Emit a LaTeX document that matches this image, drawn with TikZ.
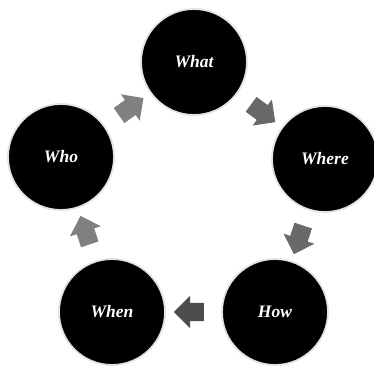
\documentclass[tikz,border=0pt]{standalone}
\usepackage{fontspec}
\setmainfont{Liberation Serif}
\usetikzlibrary{shapes.arrows}
\definecolor{arrlight}{HTML}{808080}
\definecolor{arrmid}{HTML}{696969}
\definecolor{arrdark}{HTML}{4D4D4D}
\begin{document}
\begin{tikzpicture}[x=1pt,y=1pt,
  circ/.style={circle, fill=black, draw=gray!22, line width=1.8pt,
    minimum size=106pt, inner sep=0pt, text=white,
    font=\fontsize{17.5}{19}\selectfont\bfseries\itshape},
  blk/.style={shape=single arrow, sloped, allow upside down, pos=0.5,
    minimum height=30pt, single arrow head extend=7pt,
    inner xsep=0pt, inner ysep=9pt, text height=0pt, text depth=0pt,
    draw=none, fill=#1}
]
\useasboundingbox (0,0) rectangle (374,369);
\node[circ] (what)  at (194,307) {What};
\node[circ] (where) at (325,210) {Where};
\node[circ] (how)   at (275,57)  {How};
\node[circ] (when)  at (112,57)  {When};
\node[circ] (who)   at (61,212)  {Who};
\path (who)   -- node[blk=arrlight] (a1) {} (what);
\path (what)  -- node[blk=arrmid]   (a2) {} (where);
\path (where) -- node[blk=arrmid]   (a3) {} (how);
\path (how)   -- node[blk=arrdark]  (a4) {} (when);
\path (when)  -- node[blk=arrlight] (a5) {} (who);
\end{tikzpicture}
\end{document}
